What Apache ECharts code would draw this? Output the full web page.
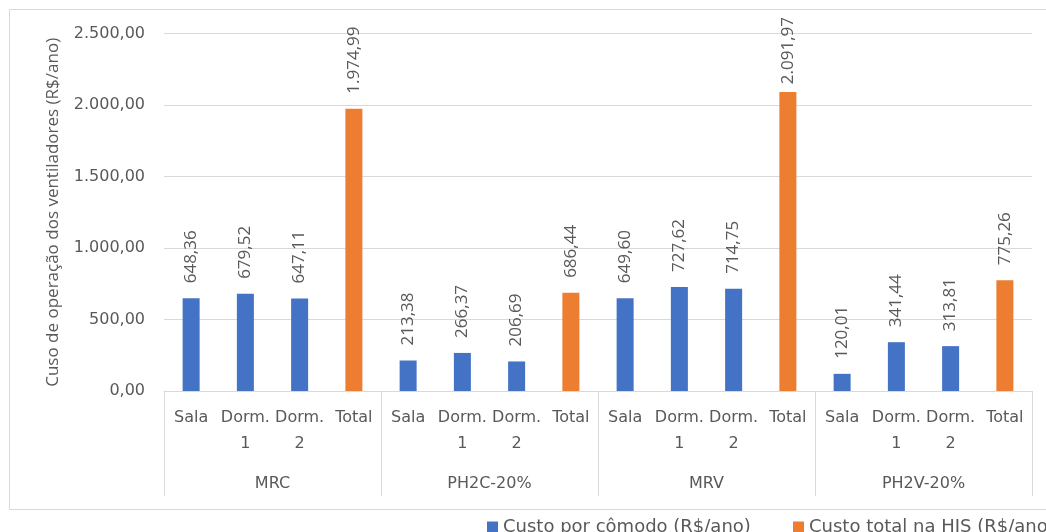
<!DOCTYPE html>
<html>
<head>
<meta charset="utf-8">
<script src="https://cdn.jsdelivr.net/npm/echarts@6/dist/echarts.min.js"></script>
<style>
  html, body { margin: 0; padding: 0; background: #fff; }
  #chart { width: 1046px; height: 532px; }
</style>
</head>
<body>
<div id="chart"></div>
<script>
// Cenários simulados e cômodos da HIS
const groups = ['MRC', 'PH2C-20%', 'MRV', 'PH2V-20%'];
const rooms = ['Sala', 'Dorm.\n1', 'Dorm.\n2', 'Total'];

// Custo anual de operação dos ventiladores por cômodo (R$/ano)
const costMRC  = [648.36, 679.52, 647.11];
const costPH2C = [213.38, 266.37, 206.69];
const costMRV  = [649.60, 727.62, 714.75];
const costPH2V = [120.01, 341.44, 313.81];

// Custo total na HIS (R$/ano)
const totalCost = [1974.99, 686.44, 2091.97, 775.26];

const yTicks = [0, 500, 1000, 1500, 2000, 2500];

const seriesNames = ['Custo por cômodo (R$/ano)', 'Custo total na HIS (R$/ano)'];

const roomSets = [costMRC, costPH2C, costMRV, costPH2V];

// Formato numérico brasileiro: 1.974,99
function fmtBR(v) {
  const parts = Number(v).toFixed(2).split('.');
  const int = parts[0].replace(/\B(?=(\d{3})+(?!\d))/g, '.');
  return int + ',' + parts[1];
}

const categories = [];
const roomSeries = [];
const totalSeries = [];
groups.forEach((g, gi) => {
  rooms.forEach((r, ri) => {
    categories.push(r);
    if (ri < 3) {
      roomSeries.push(roomSets[gi][ri]);
      totalSeries.push('-');
    } else {
      roomSeries.push('-');
      totalSeries.push(totalCost[gi]);
    }
  });
});

const FONT_V = 'Open Sans';      // textos verticais
const FONT_H = 'DejaVu Sans';    // textos horizontais
const TXT = '#595959';
const GRID = '#d9d9d9';
const LABEL_SIZE = 17;
const LABEL_GAP = 15;
const LABEL_TOP_LIMIT = 17;      // rótulos não ultrapassam a borda superior

const gridBox = { left: 164, right: 14, top: 33.6, bottom: 141 };

const barLabel = {
  show: true,
  position: 'top',
  distance: LABEL_GAP,
  rotate: 90,
  align: 'left',
  verticalAlign: 'middle',
  color: TXT,
  fontFamily: FONT_V,
  fontSize: LABEL_SIZE,
  formatter: p => fmtBR(p.value)
};

const legendBase = {
  top: 513,
  itemWidth: 11,
  itemHeight: 11,
  icon: 'rect',
  textStyle: { color: TXT, fontFamily: FONT_H, fontSize: 18 }
};

const chart = echarts.init(document.getElementById('chart'), null, { renderer: 'canvas' });

chart.setOption({
  animation: false,
  textStyle: { fontFamily: FONT_H },
  graphic: [{
    type: 'rect',
    shape: { x: 9.5, y: 9.5, width: 1060, height: 500 },
    style: { fill: 'none', stroke: GRID, lineWidth: 1 },
    silent: true,
    z: -1
  }],
  legend: [
    Object.assign({ left: 482, data: [seriesNames[0]] }, legendBase),
    Object.assign({ left: 788, data: [seriesNames[1]] }, legendBase)
  ],
  grid: [
    Object.assign({}, gridBox),
    Object.assign({}, gridBox)
  ],
  xAxis: [{
    type: 'category',
    gridIndex: 0,
    data: categories,
    axisLine: { show: true, lineStyle: { color: GRID, width: 1 } },
    axisTick: { show: false },
    axisLabel: {
      interval: 0,
      color: TXT,
      fontFamily: FONT_H,
      fontSize: 16,
      lineHeight: 26,
      margin: 14
    }
  }, {
    type: 'category',
    gridIndex: 1,
    data: groups,
    position: 'bottom',
    axisLine: { show: false },
    axisTick: { show: true, interval: 0, length: 105, lineStyle: { color: GRID, width: 1 } },
    axisLabel: {
      interval: 0,
      color: TXT,
      fontFamily: FONT_H,
      fontSize: 16,
      margin: 85
    }
  }],
  yAxis: [{
    type: 'value',
    gridIndex: 0,
    min: yTicks[0],
    max: yTicks[yTicks.length - 1],
    interval: 500,
    name: 'Cuso de operação dos ventiladores (R$/ano)',
    nameLocation: 'middle',
    nameRotate: 90,
    nameGap: 102,
    nameTextStyle: { color: TXT, fontFamily: FONT_V, fontSize: 17 },
    axisLine: { show: false },
    axisTick: { show: false },
    splitLine: { lineStyle: { color: GRID, width: 1 } },
    axisLabel: {
      color: TXT,
      fontFamily: FONT_H,
      fontSize: 16,
      margin: 19,
      formatter: v => fmtBR(v)
    }
  }, {
    type: 'value',
    gridIndex: 1,
    show: false,
    min: 0,
    max: 2500
  }],
  series: [{
    name: seriesNames[0],
    type: 'bar',
    xAxisIndex: 0,
    yAxisIndex: 0,
    data: roomSeries,
    barWidth: 17,
    barGap: '-100%',
    itemStyle: { color: '#4472C4' },
    label: barLabel
  }, {
    name: seriesNames[1],
    type: 'bar',
    xAxisIndex: 0,
    yAxisIndex: 0,
    data: totalSeries,
    barWidth: 17,
    barGap: '-100%',
    itemStyle: { color: '#ED7D31' },
    label: barLabel
  }]
});

// Rótulos altos são aproximados da barra para não sair da área do gráfico
const measure = document.createElement('canvas').getContext('2d');
measure.font = LABEL_SIZE + 'px "' + FONT_V + '"';
function fitLabels(values) {
  return values.map((v, i) => {
    if (v === '-') return v;
    const top = chart.convertToPixel({ gridIndex: 0 }, [i, v])[1];
    const len = measure.measureText(fmtBR(v)).width;
    const room = top - LABEL_TOP_LIMIT - len;
    if (room >= LABEL_GAP) return v;
    return { value: v, label: { distance: Math.max(2, room) } };
  });
}
chart.setOption({
  series: [{ data: fitLabels(roomSeries) }, { data: fitLabels(totalSeries) }]
});
</script>
</body>
</html>
